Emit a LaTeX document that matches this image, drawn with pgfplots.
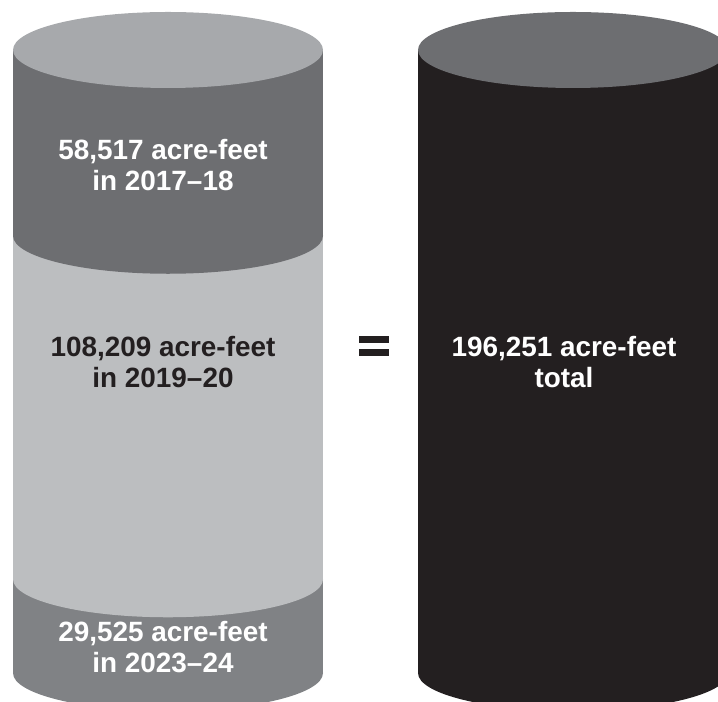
\documentclass[border=0pt]{standalone}
\usepackage{pgfplots}
\pgfplotsset{compat=1.18}
\usepackage{fontspec}
\setmainfont{Liberation Sans}

\definecolor{capgray}{HTML}{A7A9AC}
\definecolor{lightgray}{HTML}{BCBEC0}
\definecolor{darkgray}{HTML}{6D6E71}
\definecolor{midgray}{HTML}{808285}
\definecolor{nearblack}{HTML}{231F20}

\tikzset{lbl/.style={text=white, font=\fontsize{28}{31.5}\selectfont\bfseries, align=center}}

\begin{document}
\begin{tikzpicture}
\begin{axis}[
  scale only axis,
  width=718bp,
  height=702bp,
  hide axis,
  xmin=0, xmax=718,
  ymin=-9135.3, ymax=212001.5,
  clip=true,
  every axis plot/.append style={ybar, bar width=310, bar shift=0pt, draw=none},
  ]

% left cylinder: 29,525 + 108,209 + 58,517 = 196,251 acre-feet
% drawn as overlapping bars from the top segment down
\addplot [fill=darkgray]  coordinates {(168,196251)};
\addplot [fill=lightgray] coordinates {(168,137734)};
\addplot [fill=midgray]   coordinates {(168,29525)};

% right cylinder: total
\addplot [fill=nearblack] coordinates {(573,196251)};

% rims of the segments (ellipse radii in axis units)
\fill [midgray]   (axis cs:168,0)      ellipse [x radius=155, y radius=11970];
\fill [lightgray] (axis cs:168,29525)  ellipse [x radius=155, y radius=11970];
\fill [darkgray]  (axis cs:168,137734) ellipse [x radius=155, y radius=11970];
\fill [capgray]   (axis cs:168,196251) ellipse [x radius=155, y radius=11970];

\fill [nearblack] (axis cs:573,0)      ellipse [x radius=155, y radius=11970];
\fill [darkgray]  (axis cs:573,196251) ellipse [x radius=155, y radius=11970];

% equals sign
\fill [nearblack] (axis cs:359,103950) rectangle (axis cs:389,106155);
\fill [nearblack] (axis cs:359,99855)  rectangle (axis cs:389,102060);

\node [lbl] at (axis cs:163,160025) {58,517 acre-feet\\in 2017–18};
\node [lbl, text=nearblack] at (axis cs:163,97968) {108,209 acre-feet\\in 2019–20};
\node [lbl] at (axis cs:163,8190)   {29,525 acre-feet\\in 2023–24};
\node [lbl] at (axis cs:564,97968)  {196,251 acre-feet\\total};

\coordinate (sw) at (axis cs:0,-9135.3);
\coordinate (ne) at (axis cs:718,212001.5);
\end{axis}
\pgfresetboundingbox
\useasboundingbox (sw) rectangle (ne);
\end{tikzpicture}
\end{document}
